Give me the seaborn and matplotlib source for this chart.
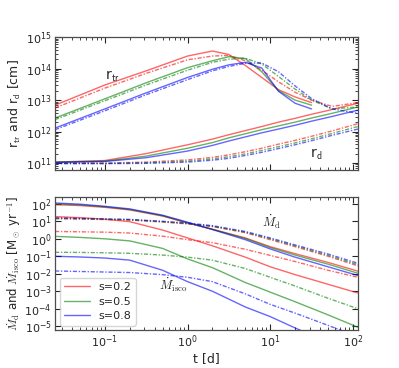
import numpy as np
import pandas as pd
import matplotlib
matplotlib.use("Agg")
import matplotlib.pyplot as plt
import seaborn as sns

# time grids [d]
t_top = [0.025, 0.1, 0.316, 1.0, 2.0, 3.16, 5.0, 7.9, 12.6, 20.0, 31.6, 56.0, 115.0]
t_bot = [0.025, 0.05, 0.1, 0.2, 0.5, 1.0, 2.0, 5.0, 10.0, 20.0, 50.0, 115.0]

spins = ["0.2", "0.5", "0.8"]

# log10 r_tr [cm], solid / dash-dot
rtr_solid_02 = [12.84, 13.48, 13.93, 14.40, 14.56, 14.45, 14.10, 13.72, 13.33, 13.10, 12.92, np.nan, np.nan]
rtr_solid_05 = [12.43, 13.04, 13.55, 14.03, 14.25, 14.38, 14.32, 13.90, 13.30, 13.00, 12.84, np.nan, np.nan]
rtr_solid_08 = [12.11, 12.72, 13.23, 13.72, 13.98, 14.12, 14.20, 14.02, 13.28, 12.90, 12.72, np.nan, np.nan]
rtr_dd_02 = [12.75, 13.38, 13.85, 14.28, 14.40, 14.42, 14.25, 13.95, 13.58, 13.25, 13.00, 12.80, 12.92]
rtr_dd_05 = [12.38, 12.98, 13.48, 13.95, 14.20, 14.30, 14.33, 14.15, 13.75, 13.35, 13.00, 12.72, 12.78]
rtr_dd_08 = [12.06, 12.66, 13.17, 13.65, 13.93, 14.07, 14.17, 14.18, 13.90, 13.45, 13.05, 12.72, 12.58]

# log10 r_d [cm]
rd_solid_02 = [11.03, 11.08, 11.30, 11.58, 11.76, 11.90, 12.03, 12.16, 12.30, 12.42, 12.55, 12.70, 12.90]
rd_solid_05 = [11.03, 11.06, 11.22, 11.47, 11.65, 11.80, 11.93, 12.06, 12.18, 12.30, 12.43, 12.58, 12.78]
rd_solid_08 = [11.02, 11.05, 11.17, 11.38, 11.56, 11.70, 11.83, 11.96, 12.08, 12.20, 12.33, 12.48, 12.68]
rd_dd_02 = [11.00, 11.00, 11.03, 11.10, 11.18, 11.26, 11.36, 11.47, 11.60, 11.72, 11.85, 12.02, 12.25]
rd_dd_05 = [10.99, 10.99, 11.01, 11.06, 11.13, 11.20, 11.29, 11.40, 11.52, 11.64, 11.77, 11.94, 12.16]
rd_dd_08 = [10.98, 10.98, 10.99, 11.03, 11.09, 11.15, 11.24, 11.34, 11.46, 11.58, 11.71, 11.88, 12.08]

# log10 Mdot_d [Msun/yr]
md_solid_02 = [1.95, 1.90, 1.80, 1.65, 1.30, 0.90, 0.55, 0.05, -0.45, -0.85, -1.35, -1.85]
md_solid_05 = [2.00, 1.94, 1.83, 1.68, 1.32, 0.92, 0.54, 0.02, -0.50, -0.93, -1.45, -1.97]
md_solid_08 = [2.05, 1.98, 1.86, 1.71, 1.35, 0.95, 0.53, -0.05, -0.58, -1.05, -1.60, -2.10]
md_dd_02 = [1.15, 1.13, 1.10, 1.07, 0.96, 0.85, 0.70, 0.35, -0.05, -0.45, -1.00, -1.55]
md_dd_05 = [1.17, 1.15, 1.12, 1.09, 0.98, 0.87, 0.72, 0.38, 0.00, -0.40, -0.94, -1.48]
md_dd_08 = [1.20, 1.17, 1.14, 1.11, 1.00, 0.90, 0.75, 0.42, 0.05, -0.35, -0.87, -1.40]

# log10 Mdot_isco [Msun/yr]
mi_solid_02 = [1.27, 1.21, 1.12, 0.98, 0.50, 0.05, -0.40, -1.05, -1.60, -2.05, -2.60, -3.10]
mi_solid_05 = [0.14, 0.08, 0.00, -0.12, -0.55, -1.15, -1.65, -2.50, -3.05, -3.60, -4.35, -5.06]
mi_solid_08 = [-1.00, -1.04, -1.10, -1.22, -1.80, -2.45, -3.00, -3.90, -4.45, -5.10, -5.90, np.nan]
mi_dd_02 = [0.42, 0.40, 0.38, 0.33, 0.15, -0.05, -0.22, -0.60, -0.95, -1.30, -1.80, -2.20]
mi_dd_05 = [-0.77, -0.78, -0.80, -0.83, -0.93, -1.05, -1.22, -1.70, -2.20, -2.70, -3.40, -4.00]
mi_dd_08 = [-1.84, -1.87, -1.90, -1.93, -2.05, -2.20, -2.45, -3.15, -3.75, -4.25, -4.95, -5.60]

colors = {"0.2": "red", "0.5": "green", "0.8": "blue"}


def to_frame(t, series):
    rows = []
    for name, s, kind, vals in series:
        for ti, v in zip(t, vals):
            rows.append({"t": ti, "val": 10.0 ** v, "s": s, "kind": kind, "series": name})
    return pd.DataFrame(rows).dropna()


top_df = to_frame(t_top, [
    ("rtr_s02", "0.2", "solid", rtr_solid_02), ("rtr_s05", "0.5", "solid", rtr_solid_05),
    ("rtr_s08", "0.8", "solid", rtr_solid_08), ("rtr_d02", "0.2", "dd", rtr_dd_02),
    ("rtr_d05", "0.5", "dd", rtr_dd_05), ("rtr_d08", "0.8", "dd", rtr_dd_08),
    ("rd_s02", "0.2", "solid", rd_solid_02), ("rd_s05", "0.5", "solid", rd_solid_05),
    ("rd_s08", "0.8", "solid", rd_solid_08), ("rd_d02", "0.2", "dd", rd_dd_02),
    ("rd_d05", "0.5", "dd", rd_dd_05), ("rd_d08", "0.8", "dd", rd_dd_08),
])
bot_df = to_frame(t_bot, [
    ("md_s02", "0.2", "solid", md_solid_02), ("md_s05", "0.5", "solid", md_solid_05),
    ("md_s08", "0.8", "solid", md_solid_08), ("md_d02", "0.2", "dd", md_dd_02),
    ("md_d05", "0.5", "dd", md_dd_05), ("md_d08", "0.8", "dd", md_dd_08),
    ("mi_s02", "0.2", "solid", mi_solid_02), ("mi_s05", "0.5", "solid", mi_solid_05),
    ("mi_s08", "0.8", "solid", mi_solid_08), ("mi_d02", "0.2", "dd", mi_dd_02),
    ("mi_d05", "0.5", "dd", mi_dd_05), ("mi_d08", "0.8", "dd", mi_dd_08),
])

sns.set_style("ticks")
plt.rcParams.update({
    "font.family": ["DejaVu Sans"],
    "mathtext.fontset": "cm",
    "xtick.direction": "in", "ytick.direction": "in",
    "xtick.top": True, "ytick.right": True,
    "xtick.minor.visible": True, "ytick.minor.visible": True,
    "xtick.major.size": 4, "ytick.major.size": 4,
    "xtick.minor.size": 2, "ytick.minor.size": 2,
    "xtick.major.pad": 2.5, "ytick.major.pad": 2.5,
    "axes.edgecolor": "0.3", "axes.linewidth": 0.9,
})

fig = plt.figure(figsize=(3.99, 3.68), dpi=100)
ax1 = fig.add_axes([0.138, 0.538, 0.759, 0.361])
ax2 = fig.add_axes([0.138, 0.103, 0.759, 0.362])

dash_map = {"solid": "", "dd": (3, 1.2, 1, 1.2)}
for ax, df in [(ax1, top_df), (ax2, bot_df)]:
    sns.lineplot(data=df, x="t", y="val", hue="s", style="kind", units="series",
                 estimator=None, palette=colors, dashes=dash_map, lw=1.0,
                 alpha=0.6, legend=False, ax=ax, sort=False)
    ax.set_xscale("log")
    ax.set_yscale("log")
    ax.set_xlim(0.025, 115)
    ax.tick_params(labelsize=8)

ax1.set_ylim(6e10, 1e15)
ax1.set_xticklabels([])
ax1.set_xlabel("")
ax1.set_ylabel(r"r$_{\mathsf{tr}}$ and r$_{\mathsf{d}}$ [cm]", fontsize=9, labelpad=2)
ax1.text(0.1, 4.5e13, r"r$_{\mathsf{tr}}$", fontsize=10)
ax1.text(30, 1.5e11, r"r$_{\mathsf{d}}$", fontsize=10)

ax2.set_ylim(6e-6, 2.5e2)
ax2.set_yticks([10.0 ** k for k in range(-5, 3)])
ax2.set_xlabel("t [d]", fontsize=9, labelpad=1)
ax2.set_ylabel(r"$\dot{M}_{\rm d}$ and $\dot{M}_{\rm isco}$ [M$_\odot$ yr$^{-1}$]", fontsize=8.5, labelpad=1)
ax2.text(8, 5, r"$\dot{M}_{\rm d}$", fontsize=9)
ax2.text(0.45, 1.2e-3, r"$\dot{M}_{\rm isco}$", fontsize=9)

handles = [plt.Line2D([], [], color=colors[s], lw=1.0, alpha=0.6) for s in spins]
ax2.legend(handles, ["s=" + s for s in spins], loc="lower left", fontsize=8,
           handlelength=2.3, frameon=True, borderaxespad=0.4, labelspacing=0.4)

fig.savefig("out.png", dpi=100)
